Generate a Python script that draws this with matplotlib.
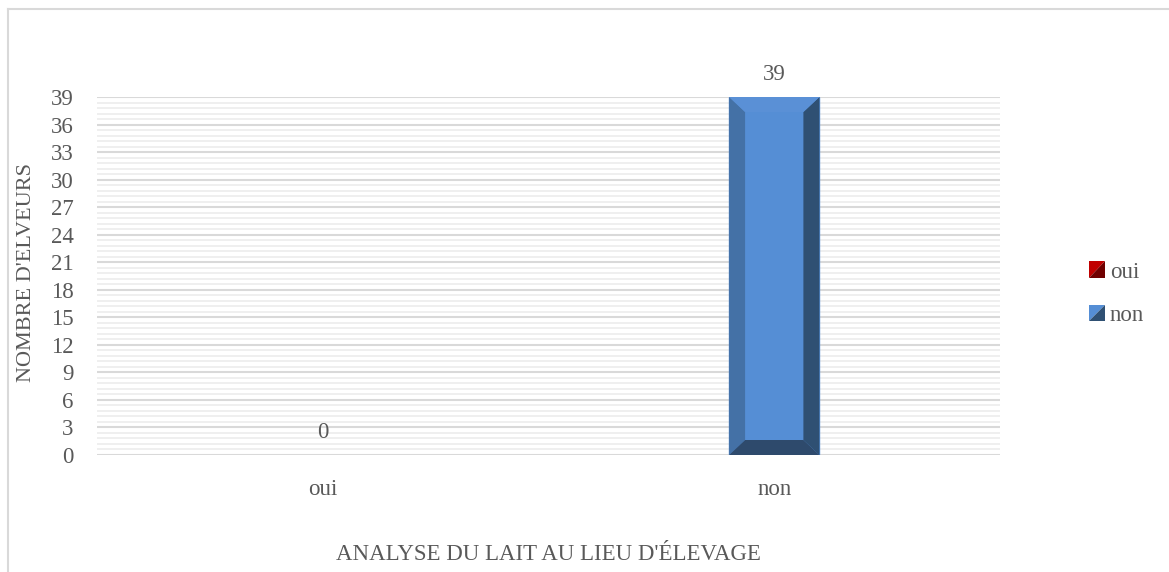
import matplotlib
matplotlib.use("Agg")
import matplotlib.pyplot as plt
from matplotlib.patches import Polygon, Rectangle
from matplotlib.lines import Line2D
from matplotlib.legend_handler import HandlerBase
import numpy as np

categories = ["oui", "non"]
series_names = ["oui", "non"]
values = [0, 39]
yticks = list(range(0, 40, 3))
x_title = "ANALYSE DU LAIT AU LIEU D'ÉLEVAGE"
y_title = "NOMBRE D'ELVEURS"

plt.rcParams['font.family'] = ['Liberation Serif', 'DejaVu Serif']
TXT = '#595959'

W, H, DPI = 11.69, 5.72, 100
fig = plt.figure(figsize=(W, H), dpi=DPI)
ax = fig.add_axes([97/1169, 1-455/572, 903/1169, 358/572])

xpos = np.arange(len(categories))
ax.set_xlim(-0.5, len(categories) - 0.5)
ax.set_ylim(0, 39)

# gridlines
ax.set_yticks(yticks)
ax.set_yticks(np.arange(0, 39.01, 0.6), minor=True)
ax.grid(True, which='minor', axis='y', color='#eeeeee', lw=1.3, zorder=0)
ax.grid(True, which='major', axis='y', color='#d9d9d9', lw=1.5, zorder=0.5)
ax.grid(False, axis='x')
ax.tick_params(axis='both', which='both', length=0, labelsize=16.5, colors=TXT)
ax.tick_params(axis='y', pad=17)
ax.tick_params(axis='x', pad=17)
ax.set_xticks(xpos)
ax.set_xticklabels(categories)
for s in ax.spines.values():
    s.set_visible(False)

palettes = {
    "oui": dict(front='#c00000', left='#a00000', right='#700000', top='#d01010', bottom='#600000'),
    "non": dict(front='#558ed5', left='#4471a6', right='#2f5073', top='#5a90d6', bottom='#2e4a6c'),
}

bw = 0.2
ax_w_px = 903
ax_h_px = 358
bev_x = 16 / ax_w_px * 2.0
bev_y = 15 / ax_h_px * 39.0

for i, (cat, v) in enumerate(zip(series_names, values)):
    pal = palettes[cat]
    x0, x1 = xpos[i] - bw/2, xpos[i] + bw/2
    y0, y1 = 0, v
    if v > 0:
        bx = min(bev_x, bw/2)
        by = min(bev_y, v/2)
        ax.add_patch(Rectangle((x0, y0), bw, v, color=pal['front'], zorder=2))
        ax.add_patch(Polygon([(x0, y0), (x0+bx, y0+by), (x0+bx, y1-by), (x0, y1)], closed=True, color=pal['left'], zorder=3, lw=0))
        ax.add_patch(Polygon([(x1, y0), (x1-bx, y0+by), (x1-bx, y1-by), (x1, y1)], closed=True, color=pal['right'], zorder=3, lw=0))
        ax.add_patch(Polygon([(x0, y1), (x0+bx, y1-by), (x1-bx, y1-by), (x1, y1)], closed=True, color=pal['top'], zorder=3, lw=0))
        ax.add_patch(Polygon([(x0, y0), (x0+bx, y0+by), (x1-bx, y0+by), (x1, y0)], closed=True, color=pal['bottom'], zorder=3, lw=0))
    ax.annotate(str(v), xy=(xpos[i], v), xytext=(0, 9), textcoords='offset points',
                ha='center', va='bottom', fontsize=16.5, color=TXT, annotation_clip=False)

ax.set_xlabel(x_title, fontsize=16.5, color=TXT, labelpad=32)
ax.set_ylabel(y_title, fontsize=16, color=TXT)
ax.yaxis.set_label_coords(-(97-36)/903, (455 - 272.5)/358)

class SplitSquare(HandlerBase):
    def create_artists(self, legend, orig_handle, xdescent, ydescent, width, height, fontsize, trans):
        pal = palettes[orig_handle.get_label()]
        s = height * 1.0
        x0 = -xdescent + (width - s) / 2
        y0 = -ydescent
        p1 = Polygon([(x0, y0), (x0, y0+s), (x0+s, y0+s)], closed=True, color=pal['front'], lw=0, transform=trans)
        p2 = Polygon([(x0, y0), (x0+s, y0), (x0+s, y0+s)], closed=True, color=pal['right'], lw=0, transform=trans)
        return [p1, p2]

handles = [Rectangle((0, 0), 1, 1, label=n) for n in series_names]
leg = fig.legend(handles=handles, labels=series_names, handler_map={Rectangle: SplitSquare()},
                 loc='center left', bbox_to_anchor=(1080/1169, 1-294/572), frameon=False,
                 fontsize=16.5, labelcolor=TXT, handlelength=0.7, handleheight=0.7,
                 handletextpad=0.2, labelspacing=1.0, borderaxespad=0)

# outer chart frame (left and top borders)
fig.add_artist(Line2D([8/1169, 8/1169], [0, 1-9/572], transform=fig.transFigure, color='#d9d9d9', lw=1.5))
fig.add_artist(Line2D([8/1169, 1], [1-9/572, 1-9/572], transform=fig.transFigure, color='#d9d9d9', lw=1.5))

fig.savefig("out.png", dpi=DPI)
